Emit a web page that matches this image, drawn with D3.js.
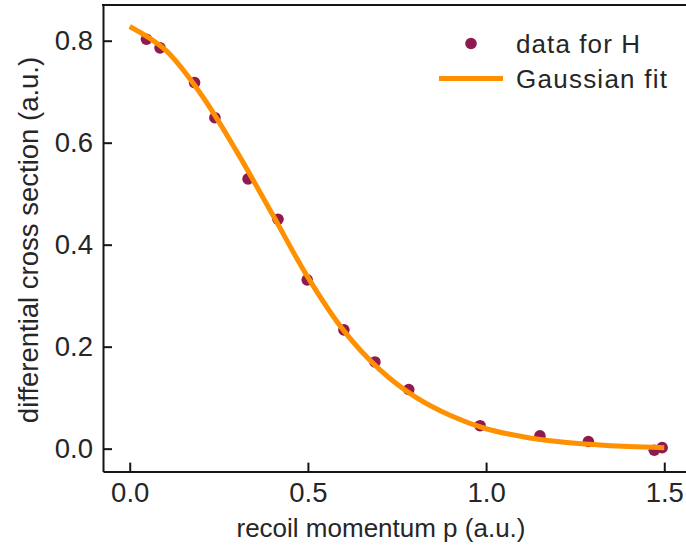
<!DOCTYPE html>
<html>
<head>
<meta charset="utf-8">
<script src="https://cdn.jsdelivr.net/npm/d3@7"></script>
<style>
  body { margin: 0; background: #fff; }
  svg { display: block; font-family: "Liberation Sans", Arial, sans-serif; }
</style>
</head>
<body>
<svg id="chart"></svg>
<script>
// measured points (recoil momentum, cross section)
const momentum = [0.047, 0.085, 0.182, 0.239, 0.332, 0.416, 0.498, 0.601, 0.688, 0.783, 0.983, 1.151, 1.287, 1.472, 1.494];
const crossSection = [0.803, 0.786, 0.718, 0.649, 0.529, 0.450, 0.331, 0.233, 0.170, 0.116, 0.045, 0.025, 0.014, -0.003, 0.002];

// gaussian fit curve
const fitMomentum = [0.0, 0.1, 0.2, 0.3, 0.4, 0.5, 0.6, 0.7, 0.8, 0.9, 1.0, 1.1, 1.2, 1.3, 1.4, 1.5];
const fitValues = [0.828, 0.782, 0.695, 0.583, 0.460, 0.336, 0.232, 0.156, 0.102, 0.065, 0.039, 0.024, 0.014, 0.008, 0.004, 0.002];

const xTicks = [0, 0.5, 1.0, 1.5];
const yTicks = [0, 0.2, 0.4, 0.6, 0.8];

const width = 686;
const height = 549;
const margin = { top: 4, left: 103, bottom: 471.6, right: 691 };

const dotColor = "#8e1a4f";
const fitColor = "#ff9100";
const inkColor = "#151515";
const textColor = "#262626";

const svg = d3.select("#chart")
    .attr("width", width)
    .attr("height", height);

const x = d3.scaleLinear().domain([-0.075, 1.575]).range([margin.left, margin.right]);
const y = d3.scaleLinear().domain([-0.045, 0.872]).range([margin.bottom, margin.top]);

// data points first, curve drawn over them
svg.append("g")
    .selectAll("circle")
    .data(momentum.map((m, i) => [m, crossSection[i]]))
    .enter()
    .append("circle")
    .attr("cx", d => x(d[0]))
    .attr("cy", d => y(d[1]))
    .attr("r", 5.8)
    .attr("fill", dotColor);

const line = d3.line()
    .x(d => x(d[0]))
    .y(d => y(d[1]))
    .curve(d3.curveCatmullRom);

svg.append("path")
    .datum(fitMomentum.map((m, i) => [m, fitValues[i]]))
    .attr("d", line)
    .attr("fill", "none")
    .attr("stroke", fitColor)
    .attr("stroke-width", 5);

// axes with inward ticks
const xAxis = svg.append("g")
    .attr("transform", `translate(0,${margin.bottom})`)
    .call(d3.axisBottom(x).tickValues(xTicks).tickFormat(d3.format(".1f"))
        .tickSizeInner(-9).tickSizeOuter(0).tickPadding(11));

const yAxis = svg.append("g")
    .attr("transform", `translate(${margin.left},0)`)
    .call(d3.axisLeft(y).tickValues(yTicks).tickFormat(d3.format(".1f"))
        .tickSizeInner(-9).tickSizeOuter(0).tickPadding(10));

[xAxis, yAxis].forEach(g => {
    g.select(".domain").attr("stroke", inkColor).attr("stroke-width", 2);
    g.selectAll(".tick line").attr("stroke", inkColor).attr("stroke-width", 2);
    g.selectAll(".tick text")
        .attr("fill", textColor)
        .style("font-size", "27.5px")
        .style("font-family", "'Liberation Sans', Arial, sans-serif");
});

// top spine
svg.append("line")
    .attr("x1", margin.left - 1).attr("x2", width)
    .attr("y1", margin.top + 1).attr("y2", margin.top + 1)
    .attr("stroke", inkColor).attr("stroke-width", 2);

// axis titles
svg.append("text")
    .attr("x", 381)
    .attr("y", 537)
    .attr("text-anchor", "middle")
    .attr("fill", textColor)
    .style("font-size", "26px")
    .text("recoil momentum p (a.u.)");

svg.append("text")
    .attr("transform", "translate(38,240) rotate(-90)")
    .attr("text-anchor", "middle")
    .attr("fill", textColor)
    .style("font-size", "27.5px")
    .text("differential cross section (a.u.)");

// legend
const legend = svg.append("g");
legend.append("circle")
    .attr("cx", 471).attr("cy", 43.5).attr("r", 5.8)
    .attr("fill", dotColor);
legend.append("line")
    .attr("x1", 439).attr("x2", 503)
    .attr("y1", 78.5).attr("y2", 78.5)
    .attr("stroke", fitColor).attr("stroke-width", 5);
legend.append("text")
    .attr("x", 516).attr("y", 43.5)
    .attr("dy", "0.36em")
    .attr("fill", textColor)
    .attr("textLength", 124)
    .attr("lengthAdjust", "spacing")
    .style("font-size", "26px")
    .text("data for H");
legend.append("text")
    .attr("x", 516).attr("y", 78.5)
    .attr("dy", "0.36em")
    .attr("fill", textColor)
    .attr("textLength", 151)
    .attr("lengthAdjust", "spacing")
    .style("font-size", "26px")
    .text("Gaussian fit");
</script>
</body>
</html>
